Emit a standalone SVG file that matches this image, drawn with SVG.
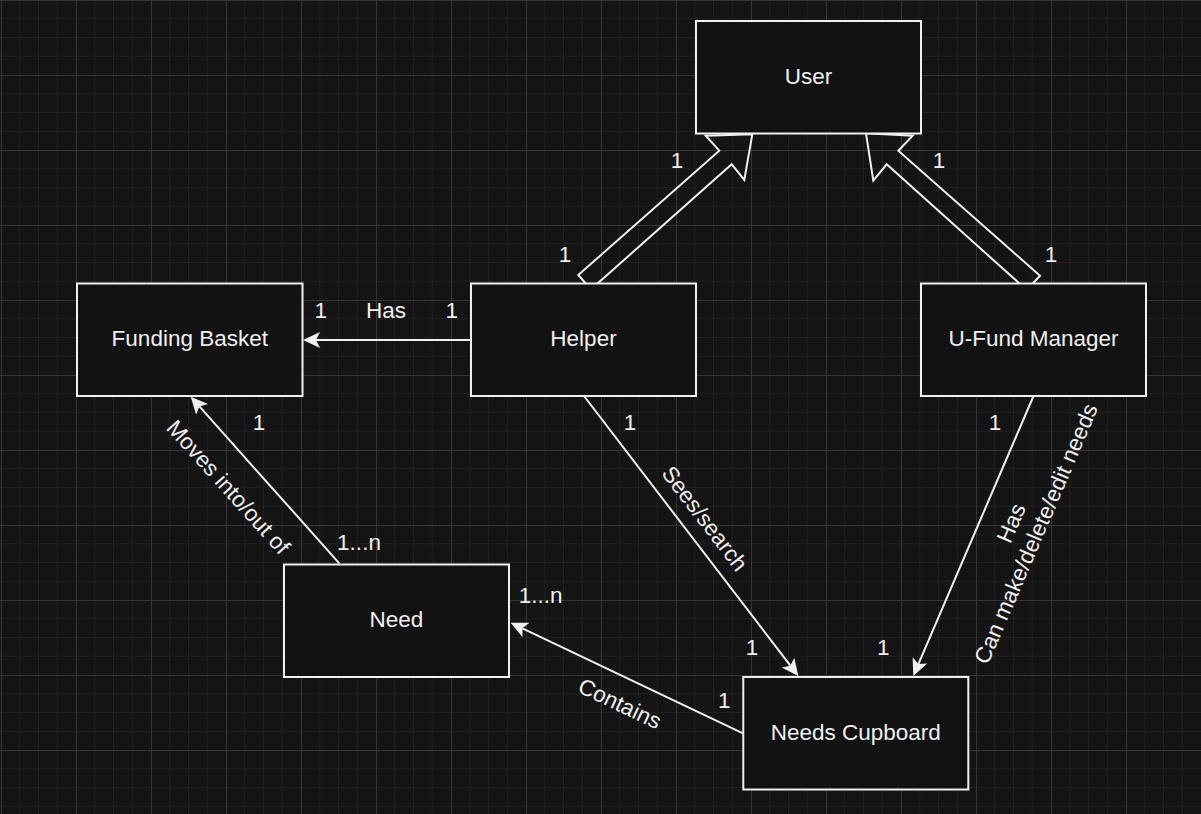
<svg xmlns="http://www.w3.org/2000/svg" width="1201" height="814" viewBox="0 0 1201 814">
<defs>
<pattern id="grid" patternUnits="userSpaceOnUse" x="1" y="0" width="75" height="75">
<path d="M18.75 0V75M37.5 0V75M56.25 0V75M0 18.75H75M0 37.5H75M0 56.25H75" stroke="#202020" stroke-width="1" fill="none"/>
<path d="M0.5 0V75M0 0.5H75" stroke="#363636" stroke-width="1" fill="none"/>
</pattern>
<marker id="arr" markerUnits="userSpaceOnUse" markerWidth="20" markerHeight="20" viewBox="0 0 20 20" refX="4" refY="8" orient="auto">
<path d="M17 8L0 0L4 8L0 16Z" fill="#f0f0f0"/>
</marker>
<style>
.box{fill:#121212;stroke:#f0f0f0;stroke-width:2}
.t{font-family:"Liberation Sans",Arial,sans-serif;font-size:22.5px;fill:#f0f0f0;text-anchor:middle}
.edge{stroke:#f0f0f0;stroke-width:2;fill:none}
.gen{stroke:#f0f0f0;stroke-width:2;fill:none;stroke-linejoin:miter}
</style>
</defs>
<rect width="1201" height="814" fill="#141414"/>
<rect width="1201" height="814" fill="url(#grid)"/>

<g id="connectors">
<polygon class="gen" points="578.3,275 719.3,150.7 705.7,135.7 752.3,134.3 744.3,180 731.7,164.3 591,289.3"/>
<polygon class="gen" points="1040,275.7 898.3,150.7 912.7,135.7 866,133.3 873.3,180.7 886.7,164.3 1026.7,290"/>
<path class="edge" d="M471 340L316 340" marker-end="url(#arr)"/>
<path class="edge" d="M339.3 563.3L199.4 406.4" marker-end="url(#arr)"/>
<path class="edge" d="M584 396L790.4 665.7" marker-end="url(#arr)"/>
<path class="edge" d="M1033.3 396.5L918.4 664.1" marker-end="url(#arr)"/>
<path class="edge" d="M743 733.3L522.4 628.3" marker-end="url(#arr)"/>

<text class="t" x="677" y="168">1</text>
<text class="t" x="565" y="262">1</text>
<text class="t" x="939" y="168">1</text>
<text class="t" x="1051" y="262">1</text>

<text class="t" x="320.7" y="318">1</text>
<text class="t" x="386" y="318">Has</text>
<text class="t" x="451.7" y="318">1</text>

<text class="t" x="259" y="430">1</text>
<text class="t" x="359" y="550">1...n</text>
<text class="t" transform="rotate(48 228.5 487)" x="228.5" y="495">Moves into/out of</text>

<text class="t" x="630" y="430">1</text>
<text class="t" x="752" y="655">1</text>
<text class="t" transform="rotate(52.6 705 518.3)" x="705" y="526.3">Sees/search</text>

<text class="t" x="995" y="430">1</text>
<text class="t" x="883.3" y="655">1</text>
<text class="t" transform="rotate(-66.8 1023.3 528.3)" x="1023.3" y="522.8">Has</text>
<text class="t" transform="rotate(-66.8 1023.3 528.3)" x="1023.3" y="549.8">Can make/delete/edit needs</text>

<text class="t" x="724.3" y="708">1</text>
<text class="t" x="540.7" y="603">1...n</text>
<text class="t" transform="rotate(25.5 620 703.3)" x="620" y="711.3">Contains</text>
</g>

<g id="user"><rect class="box" x="696" y="21" width="225" height="112.5"/><text class="t" x="808.5" y="83.5">User</text></g>
<g id="funding-basket"><rect class="box" x="77" y="283.5" width="225.5" height="112.5"/><text class="t" x="189.8" y="346">Funding Basket</text></g>
<g id="helper"><rect class="box" x="471" y="283.5" width="225" height="112.5"/><text class="t" x="583.5" y="346">Helper</text></g>
<g id="ufund-manager"><rect class="box" x="921" y="283.5" width="225" height="112.5"/><text class="t" x="1033.5" y="346">U-Fund Manager</text></g>
<g id="need"><rect class="box" x="284" y="564.5" width="225" height="112.5"/><text class="t" x="396.5" y="627">Need</text></g>
<g id="needs-cupboard"><rect class="box" x="743.3" y="677" width="225" height="112.5"/><text class="t" x="855.8" y="739.5">Needs Cupboard</text></g>
</svg>
